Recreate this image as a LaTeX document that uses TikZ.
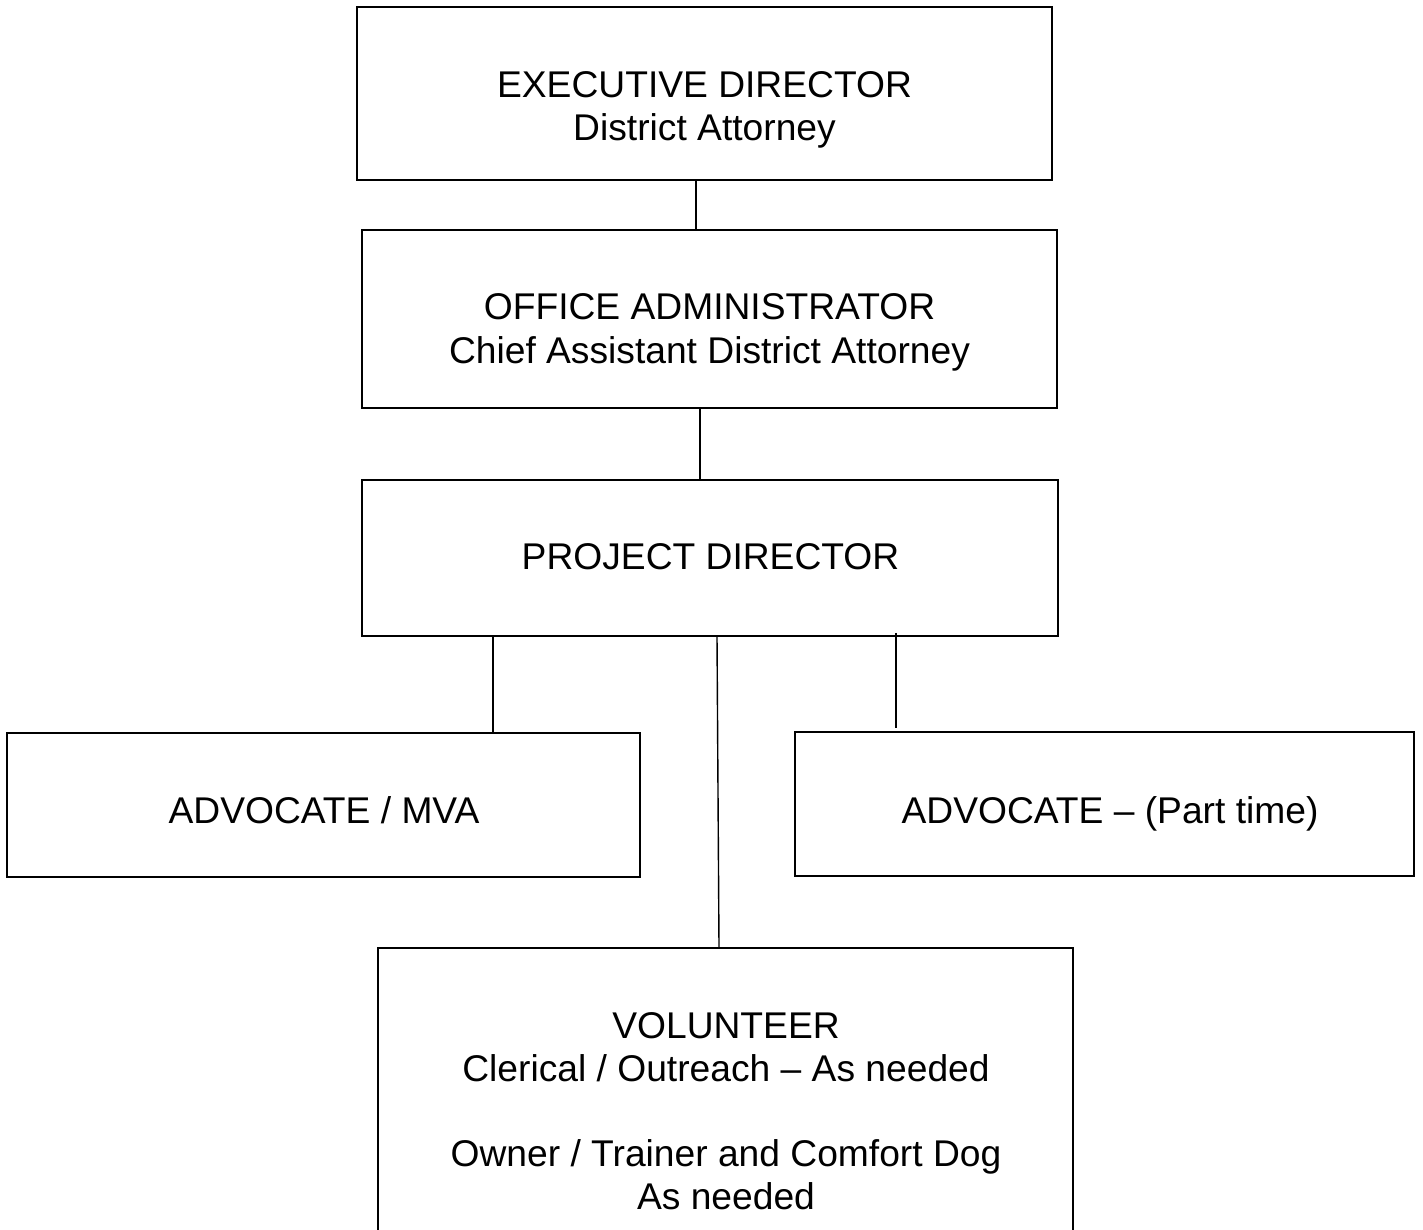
\documentclass[tikz,border=0pt]{standalone}
\usepackage{fontspec}
\setmainfont{Liberation Sans}
\begin{document}
\begin{tikzpicture}[x=0.5pt,y=-0.5pt,
  box/.style={draw, line width=0.9pt, inner sep=0pt},
  lbl/.style={anchor=base, inner sep=0pt, font=\fontsize{18.6}{22}\selectfont},
  conn/.style={line width=0.7pt}]
\useasboundingbox (0,0) rectangle (1423,1230);
% boxes
\node[box, minimum width=347.5pt, minimum height=86.5pt] (exec) at (704.5,93.5) {};
\node[box, minimum width=347.5pt, minimum height=89pt] (office) at (709.5,319) {};
\node[box, minimum width=348pt, minimum height=78pt] (project) at (710,558) {};
\node[box, minimum width=316.5pt, minimum height=72pt] (mva) at (323.5,805) {};
\node[box, minimum width=309.5pt, minimum height=72pt] (part) at (1104.5,804) {};
\node[box, minimum width=347.5pt, minimum height=150pt] (vol) at (725.5,1098) {};
% texts
\node[lbl] (t1) at (704.5,98) {EXECUTIVE DIRECTOR};
\node[lbl] (t2) at (704.5,141) {District Attorney};
\node[lbl] (t3) at (709.5,319) {OFFICE ADMINISTRATOR};
\node[lbl] (t4) at (709.5,363) {Chief Assistant District Attorney};
\node[lbl] (t5) at (710.5,569) {PROJECT DIRECTOR};
\node[lbl] (t6) at (324,823) {ADVOCATE / MVA};
\node[lbl] (t7) at (1110,823) {ADVOCATE – (Part time)};
\node[lbl] (t8) at (726,1038) {VOLUNTEER};
\node[lbl] (t9) at (726,1081) {Clerical / Outreach – As needed};
\node[lbl] (t10) at (726,1166) {Owner / Trainer and Comfort Dog};
\node[lbl] (t11) at (726,1209) {As needed};
% connectors
\draw[conn] (exec.south -| 696,0) -- (office.north -| 696,0);
\draw[conn] (office.south -| 700,0) -- (project.north -| 700,0);
\draw[conn] (project.south -| 493,0) -- (mva.north -| 493,0);
\draw[conn] (project.south -| 717,0) -- (vol.north -| 719,0);
\coordinate (pe) at (896,728);
\draw[conn] (project.south -| 896,0) ++(0,-4) -- (pe);
\end{tikzpicture}
\end{document}
